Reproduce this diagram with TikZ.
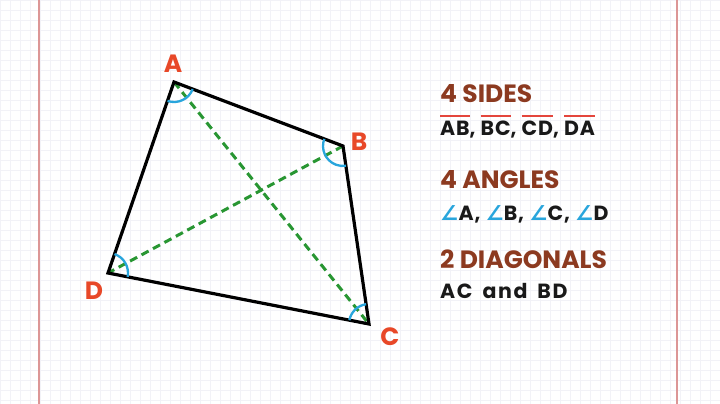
\documentclass[tikz,border=0pt]{standalone}
\usepackage{fontspec}
\setmainfont{Poppins}
\newfontfamily\bodyfont{Poppins}[LetterSpace=4]
\newfontfamily\bodywidefont{Poppins}[LetterSpace=8]
\newfontfamily\symfont{DejaVu Sans}
\definecolor{gridc}{RGB}{242,242,247}
\definecolor{marginred}{RGB}{220,150,150}
\definecolor{headbrown}{RGB}{140,58,32}
\definecolor{labred}{RGB}{232,72,40}
\definecolor{ovred}{RGB}{228,70,60}
\definecolor{angblue}{RGB}{40,165,220}
\definecolor{diaggreen}{RGB}{40,150,50}
\definecolor{bodyblack}{RGB}{25,25,25}
\newcommand\ovl[1]{\leavevmode\setbox0\hbox{#1}\rlap{\color{ovred}\rule[\dimexpr\ht0+3.5pt\relax]{\wd0}{1.8pt}}\box0}
\newcommand\ang{{\color{angblue}\symfont\bfseries ∠}}
\newcommand\widesp{\spaceskip=10pt\relax}
\tikzset{
  vlabel/.style={text=labred, font=\bfseries\fontsize{25}{25}\selectfont, inner sep=0pt},
  heading/.style={text=headbrown, font=\bfseries\fontsize{25}{25}\selectfont, anchor=base west, inner sep=0pt},
  bodytext/.style={text=bodyblack, font=\bodyfont\bfseries\fontsize{20.5}{20.5}\selectfont, anchor=base west, inner sep=0pt},
  bodywide/.style={bodytext, font=\bodywidefont\bfseries\fontsize{20.5}{20.5}\selectfont},
  side/.style={draw=black, line width=3.2pt, line join=miter},
  diag/.style={draw=diaggreen, line width=3pt, dash pattern=on 8pt off 5pt},
  angarc/.style={draw=angblue, line width=2.3pt},
}
\begin{document}
\begin{tikzpicture}[x=1pt,y=1pt]
\useasboundingbox (0,0) rectangle (720,-404);
\fill[white] (0,0) rectangle (720,-404);
\draw[gridc, line width=0.6pt, step=10pt] (0,0) grid (720,-404);
\draw[marginred, line width=1.6pt] (39,0) -- (39,-404);
\draw[marginred, line width=1.6pt] (677,0) -- (677,-404);

\coordinate (A) at (174,-82);
\coordinate (B) at (343,-146);
\coordinate (C) at (369,-324);
\coordinate (D) at (108,-273);

\draw[diag] (A) -- (C);
\draw[diag] (B) -- (D);
\draw[side] (A) -- (B) -- (C) -- (D) -- cycle;

\draw[angarc] ([shift={(-109.07:20)}]A) arc[start angle=-109.07, end angle=-20.74, radius=20];
\draw[angarc] ([shift={(159.26:20)}]B) arc[start angle=159.26, end angle=278.31, radius=20];
\draw[angarc] ([shift={(98.31:20)}]C) arc[start angle=98.31, end angle=168.94, radius=20];
\draw[angarc] ([shift={(-11.06:20)}]D) arc[start angle=-11.06, end angle=70.93, radius=20];

\node[vlabel] (lA) at (173,-64) {A};
\node[vlabel] (lB) at (359,-142) {B};
\node[vlabel] (lC) at (390,-337) {C};
\node[vlabel] (lD) at (94,-291) {D};

\node[heading] (h1) at (440,-102) {4 SIDES};
\node[bodytext] (t1) at (440,-135) {\ovl{AB}, \ovl{BC}, \ovl{CD}, \ovl{DA}};
\node[heading] (h2) at (440,-188) {4 ANGLES};
\node[bodytext] (t2) at (440,-220) {\ang A, \ang B, \ang C, \ang D};
\node[heading] (h3) at (440,-268) {2 DIAGONALS};
\node[bodywide] (t3) at (440,-298) {\widesp AC and BD};
\end{tikzpicture}
\end{document}
